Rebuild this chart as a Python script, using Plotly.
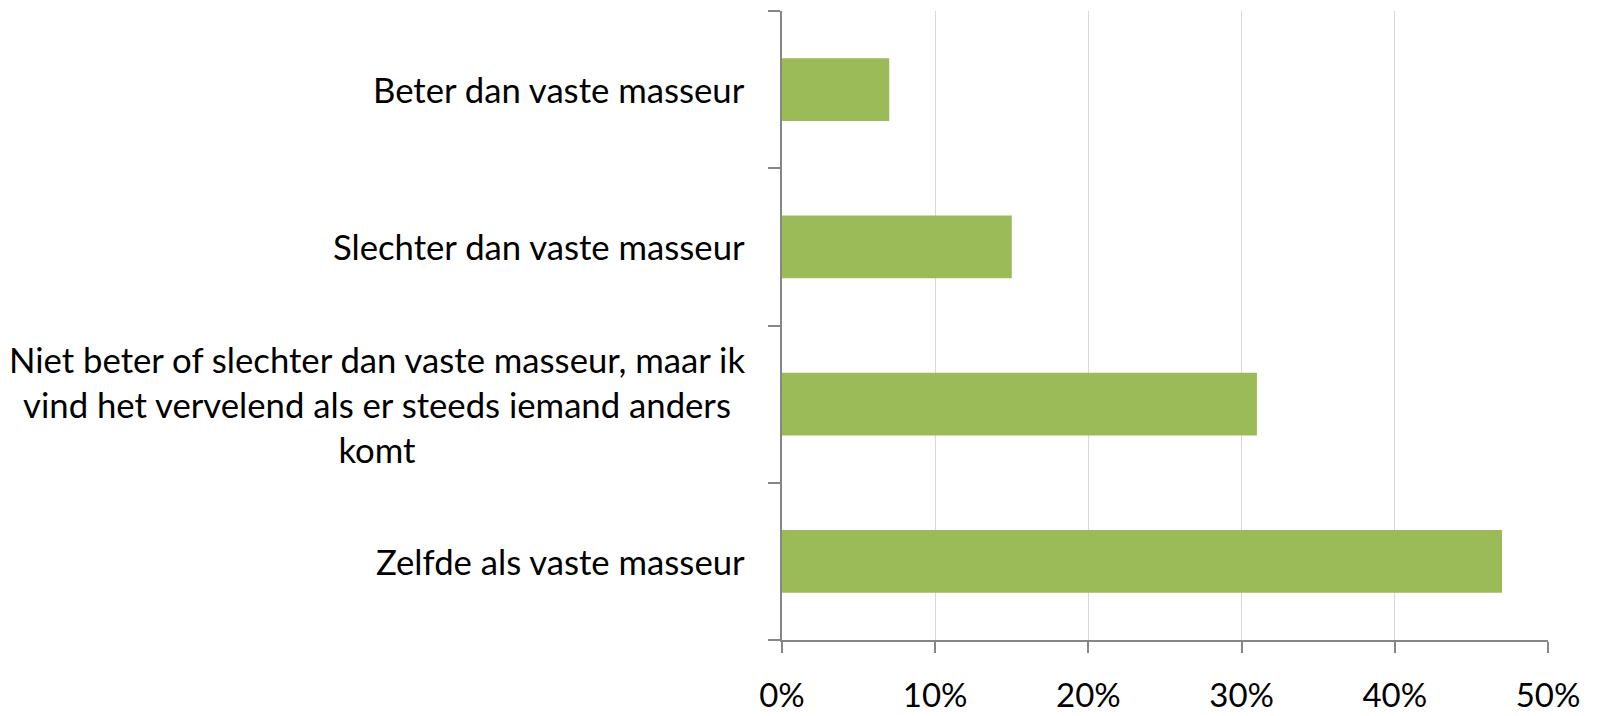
import plotly.graph_objects as go

categories = [
    "Beter dan vaste masseur",
    "Slechter dan vaste masseur",
    "Niet beter of slechter dan vaste masseur, maar ik<br>vind het vervelend als er steeds iemand anders<br>komt",
    "Zelfde als vaste masseur",
]
values = [0.07, 0.15, 0.31, 0.47]
x_ticks = [0, 0.1, 0.2, 0.3, 0.4, 0.5]
x_tick_labels = ["0%", "10%", "20%", "30%", "40%", "50%"]

FONT = "Lato"
AXIS = "#868686"

fig = go.Figure(
    go.Bar(
        x=values,
        y=list(range(len(categories))),
        orientation="h",
        marker=dict(color="#9bbb59", line=dict(width=0)),
        width=0.4,
        hoverinfo="x",
    )
)

for i, c in enumerate(categories):
    fig.add_annotation(
        x=0, xref="paper", y=i, yref="y",
        text=c, showarrow=False,
        xanchor="right", yanchor="middle", align="center",
        xshift=-35,
        font=dict(family=FONT, size=34.7, color="#000000"),
    )

fig.update_layout(
    width=1598, height=716,
    margin=dict(l=782, r=50, t=11, b=76, autoexpand=False),
    paper_bgcolor="white", plot_bgcolor="white",
    showlegend=False,
    bargap=0.6,
    font=dict(family=FONT, size=34, color="#000000"),
)
fig.update_xaxes(
    range=[0, 0.5],
    tickvals=x_ticks, ticktext=x_tick_labels,
    showgrid=True, gridcolor="#d9d9d9", gridwidth=1,
    showline=True, linecolor=AXIS, linewidth=2,
    ticks="outside", ticklen=11, tickcolor=AXIS, tickwidth=2,
    ticklabelstandoff=14,
    zeroline=False, automargin=False,
    tickfont=dict(family=FONT, size=33, color="#000000"),
)
fig.update_yaxes(
    type="linear",
    range=[3.5, -0.5],
    tickvals=[-0.5, 0.5, 1.5, 2.5, 3.5],
    showticklabels=False,
    showgrid=False, zeroline=False, automargin=False,
    showline=True, linecolor=AXIS, linewidth=2,
    ticks="outside", ticklen=12, tickcolor=AXIS, tickwidth=2,
)

fig.write_html(
    "out.html",
    config={"displayModeBar": False},
    post_script="document.body.style.margin='0';",
)
